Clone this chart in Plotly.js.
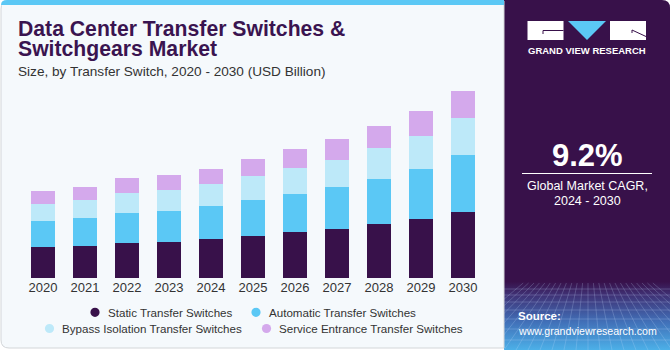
<!DOCTYPE html>
<html>
<head>
<meta charset="utf-8">
<script src="https://cdn.plot.ly/plotly-3.0.1.min.js"></script>
<style>html,body{margin:0;padding:0;background:#fff;}#chart{width:670px;height:350px;}</style>
</head>
<body>
<div id="chart"></div>
<script>
// ---- data ----
const years = ['2020','2021','2022','2023','2024','2025','2026','2027','2028','2029','2030'];
const staticTS    = [0.90, 0.95, 1.04, 1.06, 1.13, 1.24, 1.34, 1.44, 1.58, 1.73, 1.94];
const automaticTS = [0.77, 0.80, 0.87, 0.90, 0.97, 1.05, 1.12, 1.22, 1.32, 1.45, 1.65];
const bypassTS    = [0.50, 0.52, 0.58, 0.60, 0.63, 0.68, 0.75, 0.79, 0.89, 0.97, 1.08];
const serviceTS   = [0.37, 0.39, 0.42, 0.44, 0.45, 0.50, 0.54, 0.59, 0.64, 0.71, 0.79];
const seriesNames = ['Static Transfer Switches','Automatic Transfer Switches','Bypass Isolation Transfer Switches','Service Entrance Transfer Switches'];
const seriesColors = ['#38114a','#5bc8f5','#bde9f9','#d4a9ec'];
const calloutYear = '2023';
const calloutText = '$3.0B';
const cagrText = '9.2%';

// ---- helpers: figure pixel -> paper coords (margins are 0) ----
const W = 670, H = 350;
const px = x => x / W;
const py = y => 1 - y / H;
const FONT = 'Liberation Sans, Arial, sans-serif';

const allSeries = [staticTS, automaticTS, bypassTS, serviceTS];
const traces = allSeries.map((vals, i) => ({
  type: 'bar', x: years, y: vals, name: seriesNames[i],
  marker: {color: seriesColors[i], line: {width: 0}},
  width: 0.57, showlegend: false, hoverinfo: 'x+y+name'
}));

const totals = years.map((_, k) => allSeries.reduce((s, a) => s + a[k], 0));
const calloutIdx = years.indexOf(calloutYear);

// panel background svg
const gridLines = [];
[289, 295, 302, 310, 319, 329, 340].forEach(y => gridLines.push(`<line x1='0' y1='${y}' x2='168' y2='${y}'/>`));
for (let x = -60; x <= 228; x += 12) {
  const xt = 84 + (x - 84) * 0.45;
  gridLines.push(`<line x1='${xt}' y1='283' x2='${x}' y2='350'/>`);
}
const svg = `<svg xmlns='http://www.w3.org/2000/svg' width='166' height='350' viewBox='0 0 166 350' preserveAspectRatio='none'>
<defs><linearGradient id='g' x1='0' y1='0' x2='0' y2='1'>
<stop offset='0' stop-color='#38114a'/><stop offset='0.805' stop-color='#38114a'/>
<stop offset='0.84' stop-color='#3f2f72'/><stop offset='0.92' stop-color='#4170b8'/><stop offset='1' stop-color='#4cb0e8'/>
</linearGradient><clipPath id='c'><path d='M0 0 H158 Q166 0 166 8 V350 H0 Z'/></clipPath></defs>
<path d='M0 0 H158 Q166 0 166 8 V350 H0 Z' fill='url(#g)'/>
<g clip-path='url(#c)' stroke='rgba(200,225,255,0.28)' stroke-width='0.8'>${gridLines.join('')}</g>
</svg>`;
const svgURI = 'data:image/svg+xml;charset=utf-8,' + encodeURIComponent(svg);

const shapes = [
  // card
  {type: 'path', xref: 'paper', yref: 'paper', layer: 'below',
   path: `M ${px(9)} ${py(1)} L ${px(504)} ${py(1)} L ${px(504)} ${py(348)} L ${px(9)} ${py(348)} Q ${px(1)} ${py(348)} ${px(1)} ${py(340)} L ${px(1)} ${py(9)} Q ${px(1)} ${py(1)} ${px(9)} ${py(1)} Z`,
   fillcolor: '#f5f9fc', line: {color: '#d3d6d9', width: 1}},
  // top blue strip
  {type: 'path', xref: 'paper', yref: 'paper', layer: 'below',
   path: `M ${px(7)} ${py(0)} L ${px(504)} ${py(0)} L ${px(504)} ${py(5)} L ${px(1)} ${py(5)} Q ${px(1)} ${py(0)} ${px(7)} ${py(0)} Z`,
   fillcolor: '#5bc8f5', line: {width: 0}},
  // logo blocks
  {type: 'rect', xref: 'paper', yref: 'paper', x0: px(527.5), x1: px(563.5), y0: py(21), y1: py(40), fillcolor: '#ffffff', line: {width: 0}},
  {type: 'rect', xref: 'paper', yref: 'paper', x0: px(610), x1: px(646), y0: py(21), y1: py(40), fillcolor: '#ffffff', line: {width: 0}},
  {type: 'path', xref: 'paper', yref: 'paper', path: `M ${px(568)} ${py(21)} L ${px(606)} ${py(21)} L ${px(587)} ${py(40)} Z`, fillcolor: '#5bc8f5', line: {width: 0}},
  {type: 'path', xref: 'paper', yref: 'paper', path: `M ${px(563.5)} ${py(30.5)} L ${px(543)} ${py(30.5)} L ${px(543)} ${py(34)}`, line: {color: '#38114a', width: 1}},
  {type: 'path', xref: 'paper', yref: 'paper', path: `M ${px(632)} ${py(33)} L ${px(632)} ${py(30)} L ${px(646)} ${py(36.5)}`, line: {color: '#38114a', width: 1}},
  // CAGR divider
  {type: 'line', xref: 'paper', yref: 'paper', x0: px(522), x1: px(652), y0: py(173.5), y1: py(173.5), line: {color: '#ffffff', width: 1}}
];

// legend: round markers + labels, two centred rows
const legendPos = [[95, 312.3], [256, 312.3], [49.5, 328.5], [266.5, 328.5]];
const legendAnn = [];
seriesNames.forEach((name, i) => {
  const [cx, cy] = legendPos[i];
  shapes.push({type: 'circle', xref: 'paper', yref: 'paper', x0: px(cx - 4.6), x1: px(cx + 4.6), y0: py(cy - 4.6), y1: py(cy + 4.6),
               fillcolor: seriesColors[i], line: {width: 0}});
  legendAnn.push({text: name, x: px(cx + 10.5), y: py(cy), xanchor: 'left', yanchor: 'middle', font: {family: FONT, size: 11.6, color: '#333333'}});
});

const annotations = [
  {text: '<b>Data Center Transfer Switches &</b>', x: px(16), y: py(28.3), xanchor: 'left', yanchor: 'middle', font: {family: FONT, size: 21.2, color: '#3a1450'}},
  {text: '<b>Switchgears Market</b>', x: px(16), y: py(49.3), xanchor: 'left', yanchor: 'middle', font: {family: FONT, size: 21.2, color: '#3a1450'}},
  {text: 'Size, by Transfer Switch, 2020 - 2030 (USD Billion)', x: px(16), y: py(71), xanchor: 'left', yanchor: 'middle', font: {family: FONT, size: 13.6, color: '#333333'}},
  {text: calloutText, xref: 'x', yref: 'y', x: years[calloutIdx], y: totals[calloutIdx], xanchor: 'center', yanchor: 'bottom', yshift: 8, showarrow: false, font: {family: FONT, size: 15, color: '#333333'}},
  {text: '<b>GRAND VIEW RESEARCH</b>', x: px(587), y: py(50.5), xanchor: 'center', yanchor: 'middle', font: {family: FONT, size: 9.5, color: '#ffffff'}},
  {text: '<b>' + cagrText + '</b>', x: px(587), y: py(155), xanchor: 'center', yanchor: 'middle', font: {family: FONT, size: 31, color: '#ffffff'}},
  {text: 'Global Market CAGR,', x: px(587), y: py(186), xanchor: 'center', yanchor: 'middle', font: {family: FONT, size: 12.5, color: '#ffffff'}},
  {text: '2024 - 2030', x: px(587), y: py(201), xanchor: 'center', yanchor: 'middle', font: {family: FONT, size: 12.5, color: '#ffffff'}},
  {text: '<b>Source:</b>', x: px(516), y: py(315.5), xanchor: 'left', yanchor: 'middle', font: {family: FONT, size: 11.5, color: '#ffffff'}},
  {text: 'www.grandviewresearch.com', x: px(516), y: py(330.5), xanchor: 'left', yanchor: 'middle', font: {family: FONT, size: 10.6, color: '#ffffff'}}
].concat(legendAnn).map(a => Object.assign({xref: 'paper', yref: 'paper', showarrow: false}, a));

const layout = {
  width: W, height: H,
  margin: {l: 0, r: 0, t: 0, b: 0},
  paper_bgcolor: '#ffffff', plot_bgcolor: 'rgba(0,0,0,0)',
  barmode: 'stack', bargap: 0.43,
  xaxis: {domain: [px(22), px(484)], type: 'category', range: [-0.5, 10.5], showgrid: false, zeroline: false, showline: false, ticks: '',
          tickfont: {family: FONT, size: 13, color: '#333333'}, fixedrange: true},
  yaxis: {domain: [py(278.3), py(72)], range: [0, 6], visible: false, showgrid: false, zeroline: false, fixedrange: true},
  shapes: shapes,
  annotations: annotations,
  images: [{source: svgURI, xref: 'paper', yref: 'paper', x: px(504), y: py(0), sizex: 166 / W, sizey: 1, xanchor: 'left', yanchor: 'top', sizing: 'stretch', layer: 'below'}],
  showlegend: false
};

Plotly.newPlot('chart', traces, layout, {displayModeBar: false, staticPlot: true});
</script>
</body>
</html>
